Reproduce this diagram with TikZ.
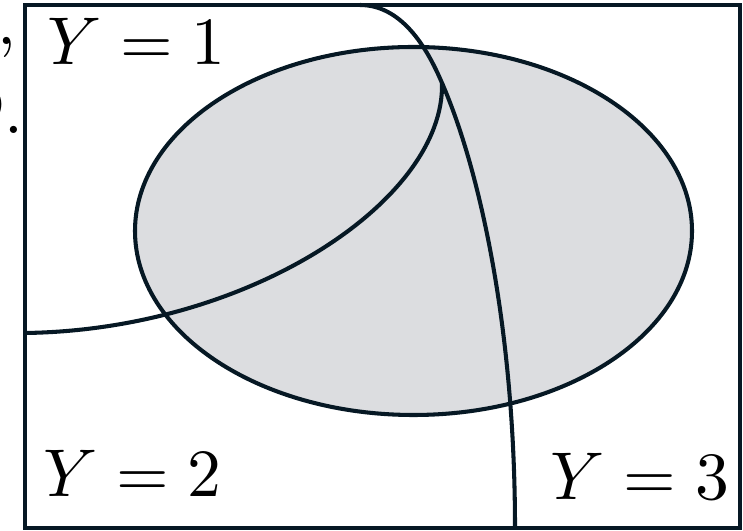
\documentclass[tikz,border=0pt]{standalone}
\usepackage{amsmath,amssymb}
\usetikzlibrary{positioning,calc}
\definecolor{inkline}{RGB}{6,24,36}
\definecolor{blobfill}{RGB}{220,221,224}
\tikzset{
  bdry/.style={draw=inkline,line width=0.6pt},
  lab/.style={inner sep=0pt,anchor=base}
}
\begin{document}
\begin{tikzpicture}[x=0.52cm,y=0.52cm]
\useasboundingbox (0,0) rectangle (7.43,5.31);
% clipped caption fragments on the left
\node[inner sep=0pt,anchor=base east] (capa) at (0.18,4.86) {,};
\node[inner sep=0pt,anchor=base east] (capb) at (0.25,3.97) {$D$.};
% data region
\draw[bdry,fill=blobfill] (4.135,3.00) ellipse [x radius=2.785,y radius=1.84];
% decision boundaries
\coordinate (meet) at (4.42,4.48);
\draw[bdry] (0.25,1.98) .. controls (2.50,2.01) and (4.45,3.31) .. (meet);
\draw[bdry] (3.60,5.26) .. controls (4.05,5.26) and (4.30,4.76) .. (meet)
  .. controls (4.80,3.61) and (5.15,2.01) .. (5.15,0.03);
\draw[bdry] (0.25,0.03) rectangle (7.40,5.26);
\node[lab] (yone) at (1.365,4.66) {$Y=1$};
\node[lab] (ytwo) at (1.325,0.34) {$Y=2$};
\node[lab] (ythree) at (6.40,0.31) {$Y=3$};
\end{tikzpicture}
\end{document}
